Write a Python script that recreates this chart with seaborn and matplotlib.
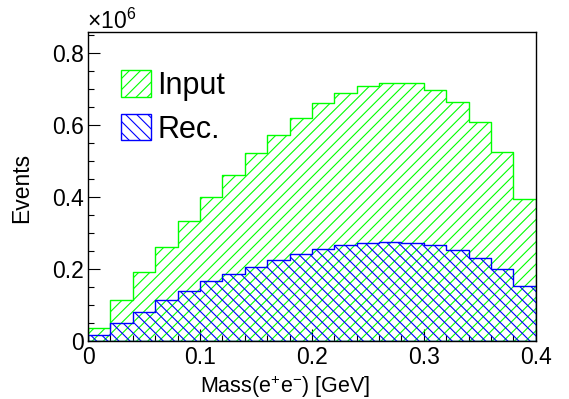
import numpy as np
import pandas as pd
import matplotlib
matplotlib.use("Agg")
import matplotlib.pyplot as plt
from matplotlib.patches import Patch
from matplotlib.ticker import MultipleLocator, FuncFormatter
import seaborn as sns

# Invariant-mass histograms, 20 bins of 0.02 GeV between 0 and 0.4 GeV
n_bins = 20
mass_range = (0.0, 0.4)
input_events = [35500, 114000, 191000, 261000, 333000, 399000, 462000, 522000, 572000, 619000,
                660000, 688000, 709000, 718000, 716000, 697000, 664000, 608000, 524000, 394000]
rec_events = [16000, 48000, 80000, 112000, 139000, 165000, 185000, 206000, 225000, 240000,
              254000, 265000, 272000, 274000, 272000, 267000, 253000, 231000, 200000, 152000]
y_ticks = [0.0, 0.2, 0.4, 0.6, 0.8]
x_ticks = [0.0, 0.1, 0.2, 0.3, 0.4]

edges = np.linspace(mass_range[0], mass_range[1], n_bins + 1)
centers = 0.5 * (edges[:-1] + edges[1:])
df = pd.DataFrame({
    "mass": np.concatenate([centers, centers]),
    "events": input_events + rec_events,
    "sample": ["Input"] * n_bins + ["Rec."] * n_bins,
})

sns.set_style("ticks")
plt.rcParams["font.family"] = ["Liberation Sans", "DejaVu Sans"]
plt.rcParams["mathtext.fontset"] = "custom"
plt.rcParams["mathtext.rm"] = "Liberation Sans"
plt.rcParams["mathtext.it"] = "Liberation Sans"
plt.rcParams["hatch.linewidth"] = 0.8
for key in ["text.color", "axes.labelcolor", "xtick.color", "ytick.color",
            "xtick.labelcolor", "ytick.labelcolor", "axes.edgecolor"]:
    plt.rcParams[key] = "black"

fig = plt.figure(figsize=(5.69, 3.99), dpi=100)
ax = fig.add_axes([0.1547, 0.146, 0.787, 0.775])

styles = {"Input": ("#00ff00", "///"), "Rec.": ("#0000ff", "\\\\\\")}
for name in ["Input", "Rec."]:
    color, hatch = styles[name]
    sub = df[df["sample"] == name]
    n_before = len(ax.collections)
    sns.histplot(data=sub, x="mass", weights="events", bins=n_bins,
                 binrange=mass_range, element="step", fill=True, ax=ax,
                 color=color, linewidth=1.0, alpha=1.0)
    for coll in ax.collections[n_before:]:
        coll.set_facecolor("none")
        coll.set_edgecolor(color)
        coll.set_hatch(hatch)
        coll.set_linewidth(1.0)

ax.set_xlim(*mass_range)
ax.set_ylim(0, 860000)
ax.set_xticks(x_ticks)
ax.set_yticks([v * 1e6 for v in y_ticks])
ax.xaxis.set_minor_locator(MultipleLocator(0.02))
ax.yaxis.set_minor_locator(MultipleLocator(50000))
ax.xaxis.set_major_formatter(FuncFormatter(lambda v, p: f"{v:g}"))
ax.yaxis.set_major_formatter(FuncFormatter(lambda v, p: f"{v / 1e6:g}"))
ax.tick_params(which="both", direction="in", labelsize=16.5, color="black",
               labelcolor="black", top=False, right=False, width=0.8)
ax.tick_params(which="major", length=8.5)
ax.tick_params(which="minor", length=4.3)
ax.tick_params(axis="x", pad=4)
ax.tick_params(axis="y", pad=3)
for s in ax.spines.values():
    s.set_visible(True)
    s.set_linewidth(1.0)
    s.set_color("black")

ax.set_xlabel("Mass(e$^{+}$e$^{-}$) [GeV]", fontsize=15.5, color="black")
ax.xaxis.set_label_coords(0.441, -0.105)
ax.set_ylabel("Events", fontsize=16.5, color="black")
ax.yaxis.set_label_coords(-0.122, 0.495)
ax.text(-0.003, 0.992, "×10$^{6}$", transform=ax.transAxes,
        fontsize=16.5, ha="left", va="bottom", color="black")

handles = [Patch(facecolor="none", edgecolor=styles[n][0], hatch=styles[n][1],
                 linewidth=1.0, label=n) for n in ["Input", "Rec."]]
ax.legend(handles=handles, loc="upper left", bbox_to_anchor=(0.073, 0.875),
          frameon=False, fontsize=22, handlelength=0.98, handleheight=0.95,
          handletextpad=0.22, labelspacing=0.43, borderpad=0, borderaxespad=0)

fig.savefig("out.png", dpi=100)
